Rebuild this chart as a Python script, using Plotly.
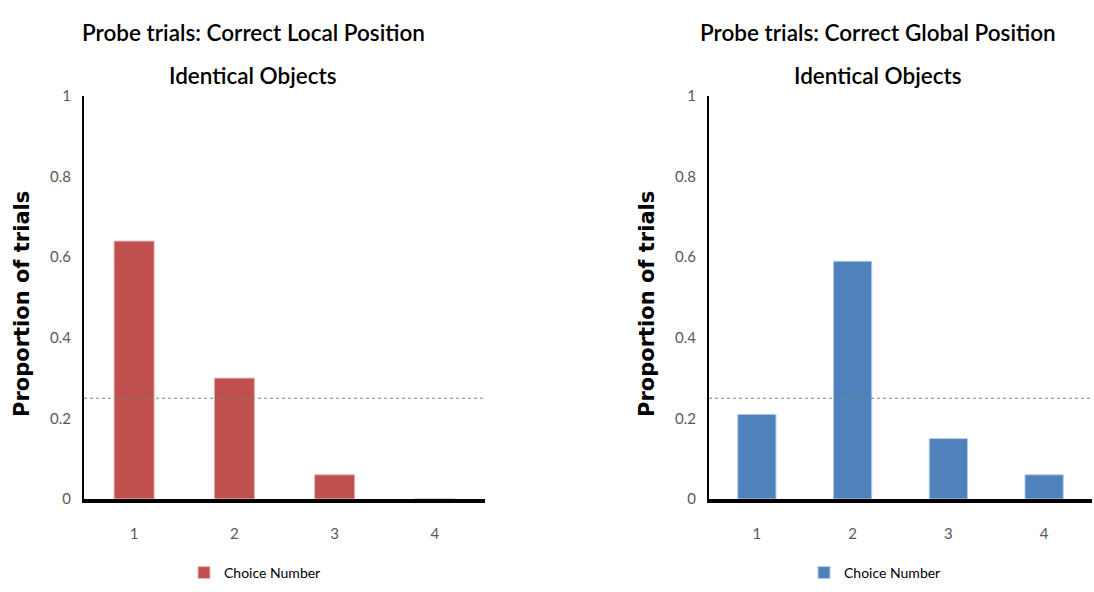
import plotly.graph_objects as go
from plotly.subplots import make_subplots

# data
choices = ["1", "2", "3", "4"]
local_props = [0.64, 0.30, 0.06, 0.0]
global_props = [0.21, 0.59, 0.15, 0.06]
chance_level = 0.25
y_ticks = [0, 0.2, 0.4, 0.6, 0.8, 1]
y_ticktext = ["0", "0.2", "0.4", "0.6", "0.8", "1"]

title_lines = [["Probe trials: Correct Local Position", "Identical Objects"],
               ["Probe trials: Correct Global Position", "Identical Objects"]]
red = "#C0504D"
blue = "#4F81BD"
narrow = "Lato"

W, H = 1094, 592
fig = make_subplots(rows=1, cols=2)

fig.add_trace(go.Bar(x=choices, y=local_props, name="Choice Number",
                     marker=dict(color=red, line=dict(color="#E8B8B6", width=1)),
                     width=0.4, legend="legend"), row=1, col=1)
fig.add_trace(go.Bar(x=choices, y=global_props, name="Choice Number",
                     marker=dict(color=blue, line=dict(color="#B9CDE5", width=1)),
                     width=0.4, legend="legend2"), row=1, col=2)

tick_font = dict(family=narrow, size=15, color="#595959")
common_x = dict(range=[-0.5, 3.5], showline=True, linecolor="black", linewidth=4,
                showgrid=False, ticks="outside", ticklen=18, tickcolor="rgba(0,0,0,0)",
                tickfont=tick_font, zeroline=False)
common_y = dict(range=[0, 1], tickvals=y_ticks, ticktext=y_ticktext, showline=True,
                linecolor="black", linewidth=2, showgrid=False, zeroline=False,
                ticks="outside", ticklen=8, tickcolor="rgba(0,0,0,0)", tickfont=tick_font)

fig.update_xaxes(**common_x)
fig.update_yaxes(**common_y)
fig.update_layout(
    xaxis=dict(domain=[84 / W, 485 / W]),
    xaxis2=dict(domain=[709 / W, 1092 / W]),
    yaxis=dict(domain=[1 - 499 / H, 1 - 96 / H]),
    yaxis2=dict(domain=[1 - 499 / H, 1 - 96 / H]),
)

# chance level dotted line
for xr, yr in [("x domain", "y"), ("x2 domain", "y2")]:
    fig.add_shape(type="line", xref=xr, yref=yr, x0=0, x1=1, y0=chance_level, y1=chance_level,
                  line=dict(color="#808080", width=1, dash="dot"), layer="above")

annotations = []
for cx, lines in [(253, title_lines[0]), (878, title_lines[1])]:
    for cy, txt in zip([32, 75], lines):
        annotations.append(dict(text=txt, x=cx / W, y=1 - cy / H, xref="paper", yref="paper",
                                showarrow=False, xanchor="center", yanchor="middle",
                                font=dict(family=narrow, size=22.5, color="black", weight=600)))
for cx in [22, 647]:
    annotations.append(dict(text="<b>Proportion of trials</b>", x=cx / W, y=1 - 304 / H,
                            xref="paper", yref="paper", showarrow=False, textangle=-90,
                            xanchor="center", yanchor="middle",
                            font=dict(family="DejaVu Sans", size=21, color="black")))

legend_common = dict(orientation="h", xanchor="left", yanchor="middle", bgcolor="rgba(0,0,0,0)",
                     font=dict(family=narrow, size=14, color="black"),
                     itemwidth=30)

fig.update_layout(
    width=W, height=H,
    margin=dict(l=0, r=0, t=0, b=0, autoexpand=False),
    paper_bgcolor="white", plot_bgcolor="white",
    annotations=annotations,
    legend=dict(x=184 / W, y=1 - 573 / H, **legend_common),
    legend2=dict(x=804 / W, y=1 - 573 / H, **legend_common),
    showlegend=True,
)

fig.write_html("out.html", config={"displayModeBar": False},
               post_script="document.body.style.margin = '0';")
